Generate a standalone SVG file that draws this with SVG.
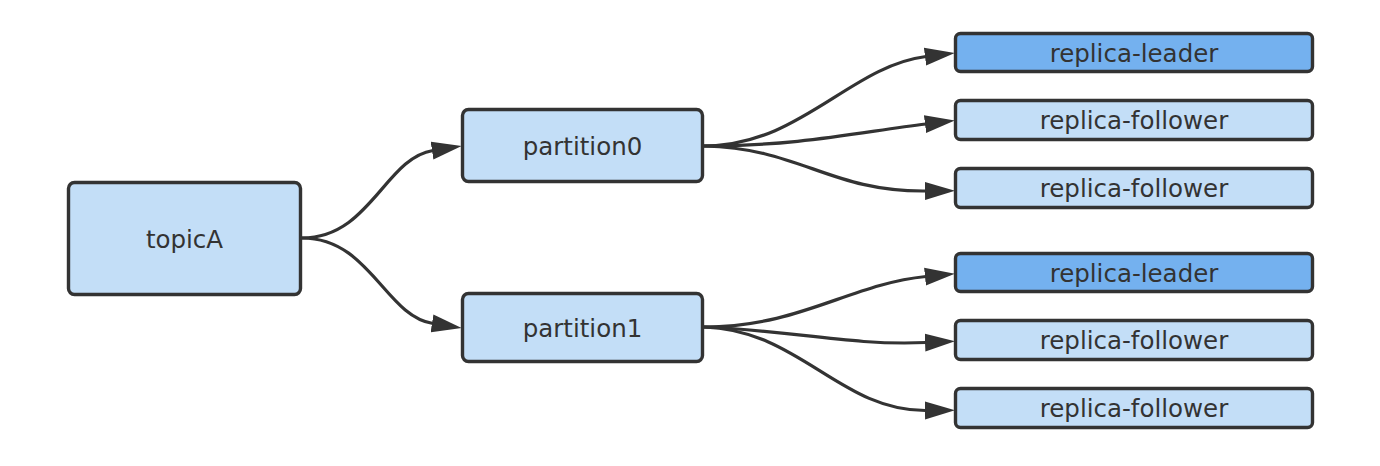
<svg xmlns="http://www.w3.org/2000/svg" width="1380" height="466" viewBox="0 0 1380 466">
<defs>
<style>
.box{fill:#C3DEF7;stroke:#333333;stroke-width:3.4}
.lead{fill:#74B1EF;stroke:#333333;stroke-width:3.4}
.lbl{font-family:"DejaVu Sans","Liberation Sans",sans-serif;font-size:24.5px;fill:#333333;text-anchor:middle}
.edge{fill:none;stroke:#333333;stroke-width:3.2}
</style>
<marker id="arr" markerUnits="userSpaceOnUse" markerWidth="31" markerHeight="20" refX="1" refY="9" orient="auto" viewBox="0 0 31 18">
<path d="M0,0 L30,9 L0,18 Z" fill="#333333"/>
</marker>
</defs>
<rect width="1380" height="466" fill="#ffffff"/>
<g id="connectors">
<path class="edge" marker-end="url(#arr)" d="M302,238 C370,238 385,158 433,150.5"/>
<path class="edge" marker-end="url(#arr)" d="M302,238 C370,238 385,316 433,323.5"/>
<path class="edge" marker-end="url(#arr)" d="M704,146 C800,146 850,66 926,56.5"/>
<path class="edge" marker-end="url(#arr)" d="M704,146 C800,146 860,132 926,124"/>
<path class="edge" marker-end="url(#arr)" d="M704,146 C800,148 830,192 926,191"/>
<path class="edge" marker-end="url(#arr)" d="M704,327 C800,327 850,284 926,276.5"/>
<path class="edge" marker-end="url(#arr)" d="M704,327 C790,330 850,346 926,342.5"/>
<path class="edge" marker-end="url(#arr)" d="M704,327 C800,330 840,411 926,410.5"/>
</g>
<g id="topicA">
<rect class="box" x="68.5" y="182.5" width="232" height="112" rx="6"/>
<text class="lbl" x="184.5" y="247.5">topicA</text>
</g>
<g id="partition0">
<rect class="box" x="462.5" y="109.5" width="240" height="72" rx="6"/>
<text class="lbl" x="582.5" y="154.5">partition0</text>
</g>
<g id="partition1">
<rect class="box" x="462.5" y="293.5" width="240" height="68" rx="6"/>
<text class="lbl" x="582.5" y="336.5">partition1</text>
</g>
<g id="p0-leader">
<rect class="lead" x="955.5" y="33.5" width="357" height="38" rx="5"/>
<text class="lbl" x="1134" y="61.5">replica-leader</text>
</g>
<g id="p0-follower1">
<rect class="box" x="955.5" y="100.5" width="357" height="39" rx="5"/>
<text class="lbl" x="1134" y="129">replica-follower</text>
</g>
<g id="p0-follower2">
<rect class="box" x="955.5" y="168.5" width="357" height="39" rx="5"/>
<text class="lbl" x="1134" y="197">replica-follower</text>
</g>
<g id="p1-leader">
<rect class="lead" x="955.5" y="253.5" width="357" height="38" rx="5"/>
<text class="lbl" x="1134" y="281.5">replica-leader</text>
</g>
<g id="p1-follower1">
<rect class="box" x="955.5" y="320.5" width="357" height="39" rx="5"/>
<text class="lbl" x="1134" y="349">replica-follower</text>
</g>
<g id="p1-follower2">
<rect class="box" x="955.5" y="388.5" width="357" height="39" rx="5"/>
<text class="lbl" x="1134" y="417">replica-follower</text>
</g>
</svg>
